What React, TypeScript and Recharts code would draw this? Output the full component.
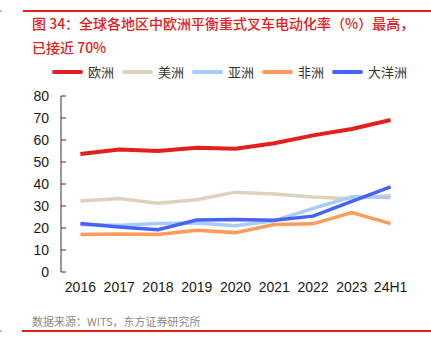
import React from 'react';
import { LineChart, Line, XAxis, YAxis } from 'recharts';

const categories = ['2016', '2017', '2018', '2019', '2020', '2021', '2022', '2023', '24H1'];
const europe = [53.6, 55.7, 55.0, 56.5, 56.0, 58.5, 62.1, 65.0, 69.1];
const americas = [32.3, 33.4, 31.3, 32.8, 36.3, 35.5, 34.1, 33.3, 34.9];
const asia = [21.5, 21.2, 22.0, 22.3, 21.0, 23.3, 28.9, 34.2, 33.9];
const africa = [17.0, 17.3, 17.0, 19.0, 17.9, 21.6, 21.9, 27.0, 22.0];
const oceania = [22.0, 20.5, 19.2, 23.6, 23.9, 23.5, 25.4, 32.1, 38.7];

const seriesNames = ['欧洲', '美洲', '亚洲', '非洲', '大洋洲'];
const seriesColors = ['#e2201c', '#ddd3bd', '#a9cbfb', '#fd9b5a', '#4763f5'];
const seriesValues = [europe, americas, asia, africa, oceania];

const yTicks = [0, 10, 20, 30, 40, 50, 60, 70, 80];
const edgeTicks = [1, 2, 3, 4, 5, 6, 7, 8, 9];

const titleLine1 = '图 34：全球各地区中欧洲平衡重式叉车电动化率（%）最高，';
const titleLine2 = '已接近 70%';
const sourceText = '数据来源：WITS，东方证券研究所';

const data = categories.map((c, i) => {
  const row: Record<string, string | number> = { name: c };
  seriesNames.forEach((s, j) => {
    row[s] = seriesValues[j][i];
  });
  return row;
});

const sansFont = '"Liberation Sans", Arial, "Noto Sans CJK SC", sans-serif';
const cjkFont = '"Noto Sans CJK SC", "Liberation Sans", sans-serif';

export default function App() {
  return (
    <div style={{ position: 'fixed', left: 0, top: 0, width: 431, height: 351, background: '#fff', overflow: 'hidden' }}>
      <div style={{ position: 'absolute', left: 23, top: 10, width: 408, height: 1.5, background: '#e2201c' }} />
      <div style={{ position: 'absolute', left: 0, top: 10, width: 2, height: 1.5, background: '#f2a0a0' }} />
      <div
        style={{
          position: 'absolute',
          left: 32,
          top: 11,
          fontFamily: cjkFont,
          fontSize: 14,
          lineHeight: '24px',
          color: '#e2201c',
          fontWeight: 500,
          whiteSpace: 'nowrap',
        }}
      >
        <div>{titleLine1}</div>
        <div>{titleLine2}</div>
      </div>
      <div style={{ position: 'absolute', left: 52, top: 62, display: 'flex', alignItems: 'center', fontFamily: cjkFont, fontSize: 13, color: '#333' }}>
        {seriesNames.map((n, i) => (
          <div key={n} style={{ display: 'flex', alignItems: 'center', marginRight: 8 }}>
            <div style={{ width: 31, height: 4, background: seriesColors[i], borderRadius: 2 }} />
            <span style={{ marginLeft: 5, lineHeight: '20px' }}>{n}</span>
          </div>
        ))}
      </div>
      <div style={{ position: 'absolute', left: 0, top: 0 }}>
        <LineChart width={431} height={351} data={data} margin={{ top: 96, right: 21, left: 31, bottom: 39 }}>
          <XAxis
            xAxisId="edges"
            type="number"
            domain={[0, 9]}
            ticks={edgeTicks}
            tick={false}
            tickSize={-5}
            height={0}
            allowDataOverflow
            axisLine={{ stroke: '#333' }}
            tickLine={{ stroke: '#333', strokeWidth: 1 }}
          />
          <XAxis
            dataKey="name"
            height={40}
            padding={{ left: 19.4, right: 19.4 }}
            axisLine={false}
            tickLine={false}
            tickSize={0}
            tickMargin={10}
            interval={0}
            tick={{ fill: '#1a1a1a', fontSize: 14, fontFamily: sansFont }}
          />
          <YAxis
            width={30}
            domain={[0, 80]}
            ticks={yTicks}
            interval={0}
            tickSize={-5}
            tickMargin={17}
            axisLine={{ stroke: '#333' }}
            tickLine={{ stroke: '#333' }}
            tick={{ fill: '#1a1a1a', fontSize: 14, fontFamily: sansFont }}
          />
          {seriesNames.map((n, i) => (
            <Line
              key={n}
              dataKey={n}
              type="linear"
              stroke={seriesColors[i]}
              strokeWidth={i === 0 ? 4 : 3.5}
              dot={false}
              isAnimationActive={false}
            />
          ))}
        </LineChart>
      </div>
      <div
        style={{
          position: 'absolute',
          left: 32,
          top: 313,
          fontFamily: cjkFont,
          fontSize: 11,
          lineHeight: '16px',
          color: '#8a8a8a',
          whiteSpace: 'nowrap',
        }}
      >
        {sourceText}
      </div>
      <div style={{ position: 'absolute', left: 22, top: 330, width: 409, height: 1.5, background: '#e2201c' }} />
      <div style={{ position: 'absolute', left: 0, top: 330, width: 2, height: 1.5, background: '#f2a0a0' }} />
    </div>
  );
}
